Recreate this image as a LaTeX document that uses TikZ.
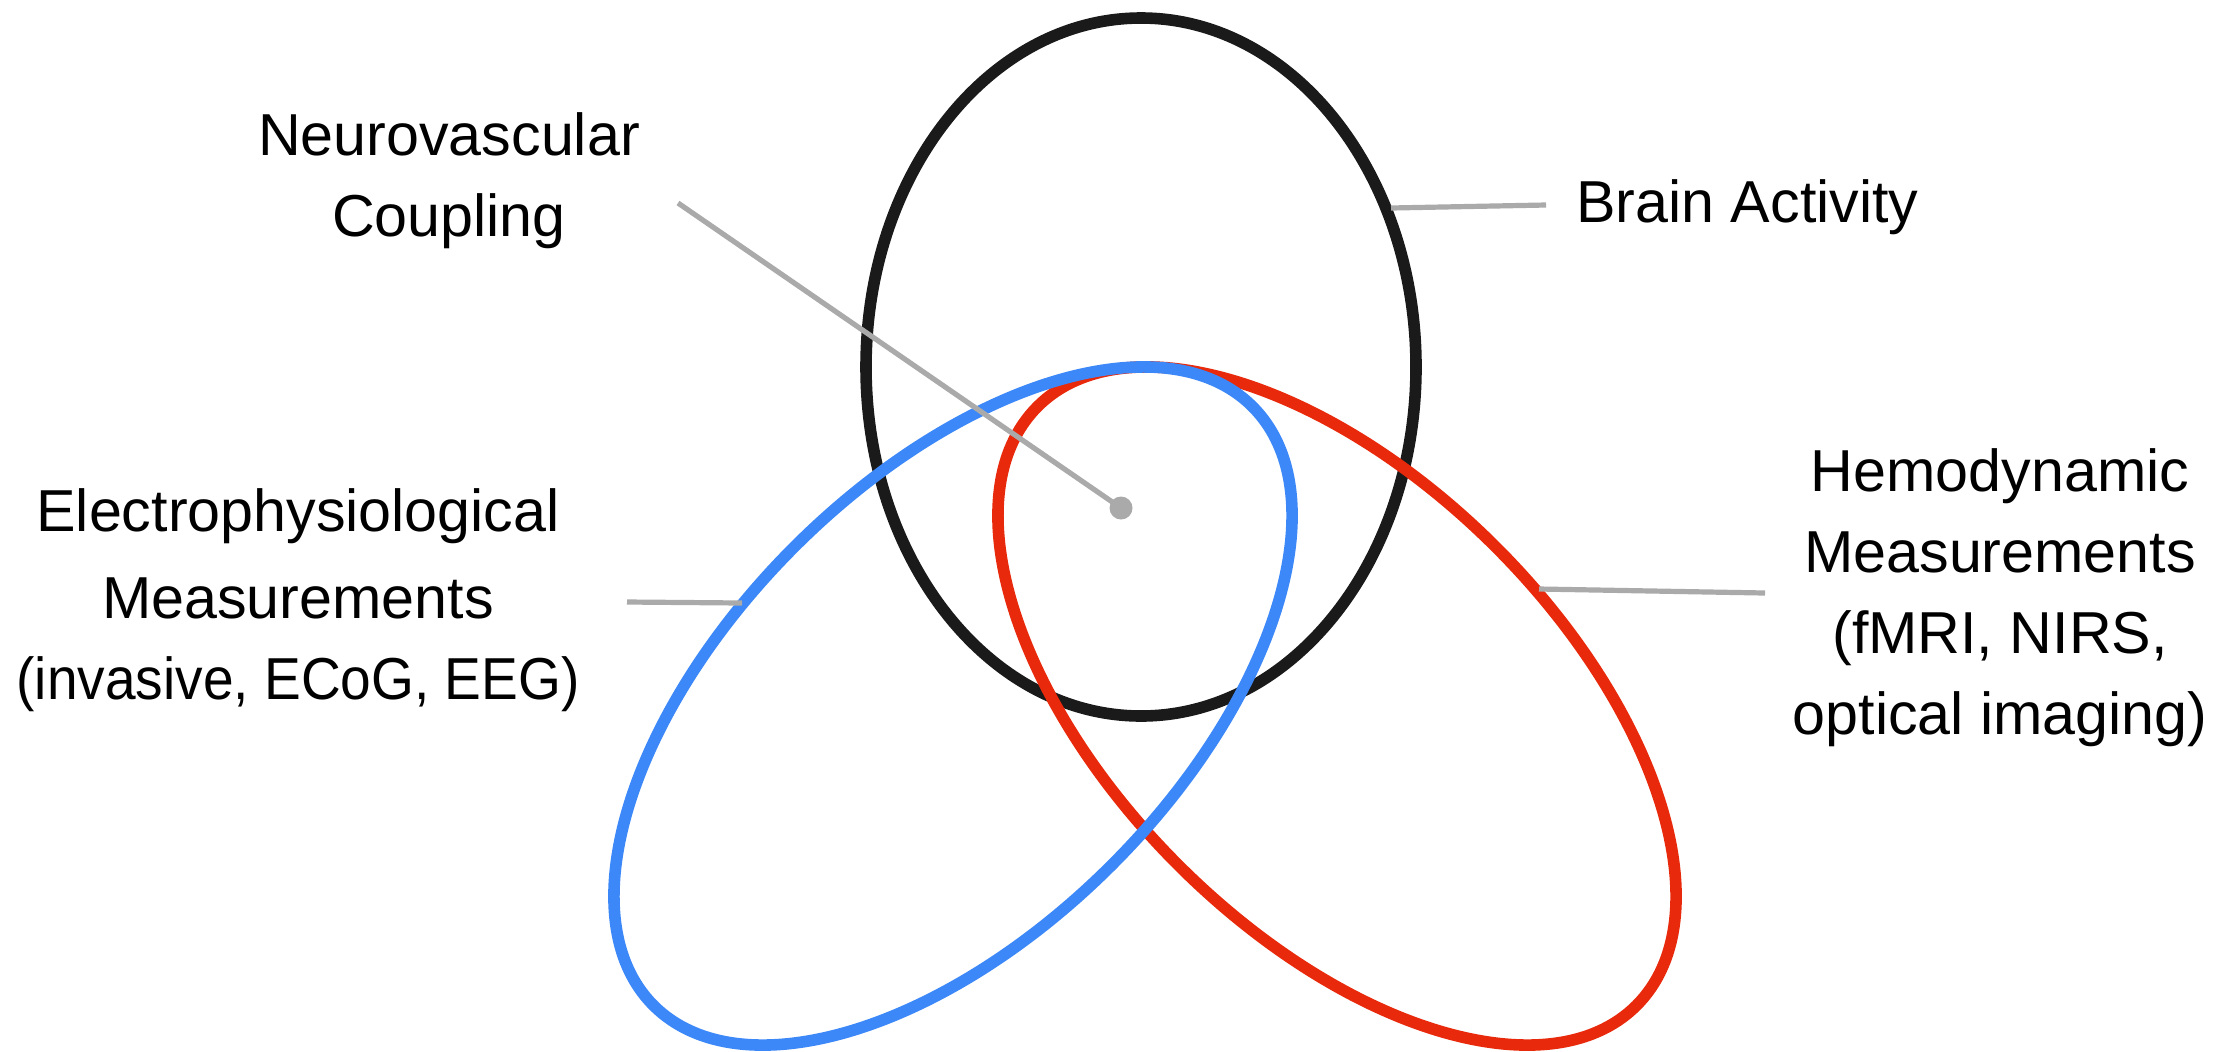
\documentclass[tikz,border=0pt]{standalone}
\usepackage{fontspec}
\usepackage{graphicx}
\setmainfont{Liberation Sans}
\definecolor{cblue}{HTML}{3D88F8}
\definecolor{cred}{HTML}{E8290B}
\definecolor{cblack}{HTML}{1A1A1A}
\definecolor{cgray}{HTML}{AAAAAA}
\begin{document}
\begin{tikzpicture}[x=0.5pt,y=-0.5pt,
  ring/.style={line width=5.8pt},
  leader/.style={draw=cgray,line width=2.6pt},
  lbl/.style={font=\fontsize{29.6}{40.5}\selectfont, align=center, inner sep=0pt, text=black}]
\useasboundingbox[fill=white] (0,0) rectangle (2230,1051);
% ellipses
\draw[ring,cblack] (1141,367) ellipse [x radius=275, y radius=349];
\draw[ring,cred,rotate around={-45:(1337,706)}] (1337,706) ellipse [x radius=423.5, y radius=224.7];
\draw[ring,cblue,rotate around={45:(953,706)}] (953,706) ellipse [x radius=423.5, y radius=224.7];
% labels
\node[lbl] (nv) at (449,181) {Neurovascular\\Coupling};
\node[lbl, anchor=west] (ba) at (1576,207) {Brain Activity};
\node[lbl] (el) at (298,600) {Electrophysiological\\[3pt]Measurements\\\scalebox{0.93}[1]{(invasive, ECoG, EEG)}};
\node[lbl] (he) at (2000,598) {Hemodynamic\\Measurements\\(fMRI, NIRS,\\optical imaging)};
% leader lines
\node[circle, fill=cgray, minimum size=11.5pt, inner sep=0pt] (dot) at (1121,508) {};
\coordinate (nvA) at (678,203);
\coordinate (baA) at (1391,208);
\coordinate (baB) at (1546,205);
\coordinate (elA) at (627,602);
\coordinate (elB) at (742,603);
\coordinate (heA) at (1539,589);
\coordinate (heB) at (1765,593);
\draw[leader] (nvA) -- (dot.center);
\draw[leader] (baA) -- (baB);
\draw[leader] (elA) -- (elB);
\draw[leader] (heA) -- (heB);
\end{tikzpicture}
\end{document}
